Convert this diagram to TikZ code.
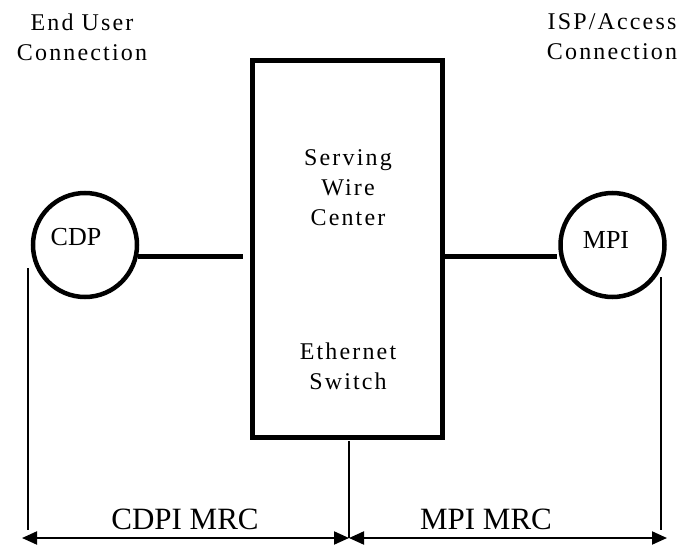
\documentclass[tikz,border=0pt]{standalone}
\usepackage{fontspec}
\setmainfont{Liberation Serif}
\newfontfamily\spaced[LetterSpace=9]{Liberation Serif}
\usetikzlibrary{arrows.meta}
\tikzset{
  thick line/.style={line width=5pt},
  thin line/.style={line width=2pt},
  endpoint/.style={circle,draw,line width=4.5pt,minimum size=104pt,inner sep=0pt},
  boxstyle/.style={draw,line width=5pt,rectangle,inner sep=0pt},
  spacedtext/.style={align=center,font=\fontsize{24}{30}\spaced},
  eptext/.style={font=\fontsize{26}{30}\selectfont},
  mrc/.style={font=\fontsize{31}{34}\selectfont,anchor=base},
  dim/.style={line width=2pt,{Triangle[length=15pt,width=13pt]}-{Triangle[length=15pt,width=13pt]}}
}
\begin{document}
\begin{tikzpicture}[x=1pt,y=-1pt]
\useasboundingbox (0,0) rectangle (694,546);
% headers
\node[spacedtext] (euc) at (82,37) {End User\\Connection};
\node[spacedtext] (isp) at (612,37) {ISP/Access\\Connection};
% box
\node[boxstyle,minimum width=190pt,minimum height=377pt] (swc) at (347.5,249) {};
\node[spacedtext] (swctext) at (348,188) {Serving\\Wire\\Center};
\node[spacedtext] (eth) at (348,366) {Ethernet\\Switch};
% endpoints
\node[endpoint] (cdp) at (85,245) {};
\node[eptext] (cdptext) at (76,237) {CDP};
\node[endpoint] (mpi) at (612.5,245) {};
\node[eptext] (mpitext) at (606,240) {MPI};
% connectors
\coordinate (cdpR) at (138,256);
\coordinate (boxL) at (243,256);
\coordinate (boxR) at (442,256);
\coordinate (mpiL) at (557,256);
\draw[thick line] (cdpR) -- (boxL);
\draw[thick line] (boxR) -- (mpiL);
% dimension lines
\coordinate (lt) at (28,268);
\coordinate (lb) at (28,530);
\coordinate (ct) at (349,441);
\coordinate (cb) at (349,538);
\coordinate (rt) at (661,277);
\coordinate (rb) at (661,530);
\coordinate (la) at (22,538);
\coordinate (ra) at (667,538);
\draw[thin line] (lt) -- (lb);
\draw[thin line] (ct) -- (cb);
\draw[thin line] (rt) -- (rb);
\draw[dim] (la) -- (cb);
\draw[dim] (cb) -- (ra);
\node[mrc] (cdpi) at (185,529) {CDPI MRC};
\node[mrc] (mpimrc) at (486,529) {MPI MRC};
\end{tikzpicture}
\end{document}
